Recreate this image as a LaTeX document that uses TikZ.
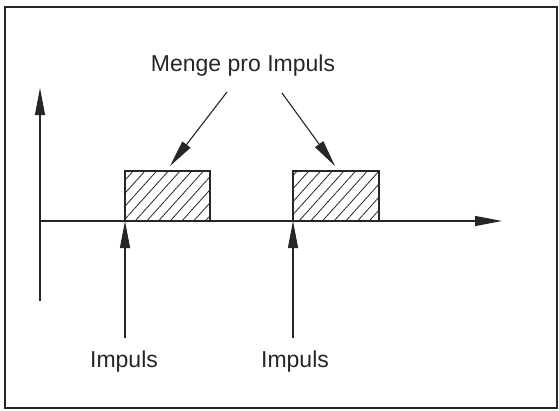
\documentclass[tikz,border=0pt]{standalone}
\usepackage{fontspec}
\setmainfont{Liberation Sans}
\usetikzlibrary{arrows.meta,patterns.meta}
\begin{document}
\begin{tikzpicture}[x=1pt,y=-1pt,
  ln/.style={line width=1.1pt, draw=black!85},
  arr/.style={ln, -{Triangle[length=27pt,width=10pt]}},
  lbl/.style={font=\fontsize{23}{26}\selectfont, text=black!85, inner sep=0pt, anchor=base},
  hatchbox/.style={draw=black!85, line width=1.3pt, pattern={Lines[angle=48,distance=8.7pt,line width=0.8pt]}, pattern color=black!85}]
\useasboundingbox (0,0) rectangle (559,410);
\draw[line width=1.4pt, draw=black!85] (5,7) rectangle (557,408);
% axes
\coordinate (o) at (40,221);
\coordinate (ybot) at (40,301);
\coordinate (ytop) at (40,88);
\coordinate (xend) at (502,221);
\draw[ln] (ybot) -- (o);
\draw[arr] (o) -- (ytop);
\draw[arr] (o) -- (xend);
% boxes
\draw[hatchbox] (125,171) rectangle (210,221);
\draw[hatchbox] (293,171) rectangle (379,221);
\coordinate (b1) at (125,221);
\coordinate (b2) at (293,221);
\coordinate (t1) at (170,166);
\coordinate (t2) at (335,166);
% labels
\node[lbl] (menge) at (243,71) {Menge pro Impuls};
\node[lbl] (imp1) at (124,367) {Impuls};
\node[lbl] (imp2) at (295,367) {Impuls};
\coordinate (s1) at (227,92);
\coordinate (s2) at (282,93);
\coordinate (u1) at (125,338);
\coordinate (u2) at (293,338);
\draw[arr] (s1) -- (t1);
\draw[arr] (s2) -- (t2);
\draw[arr] (u1) -- (b1);
\draw[arr] (u2) -- (b2);
\end{tikzpicture}
\end{document}
